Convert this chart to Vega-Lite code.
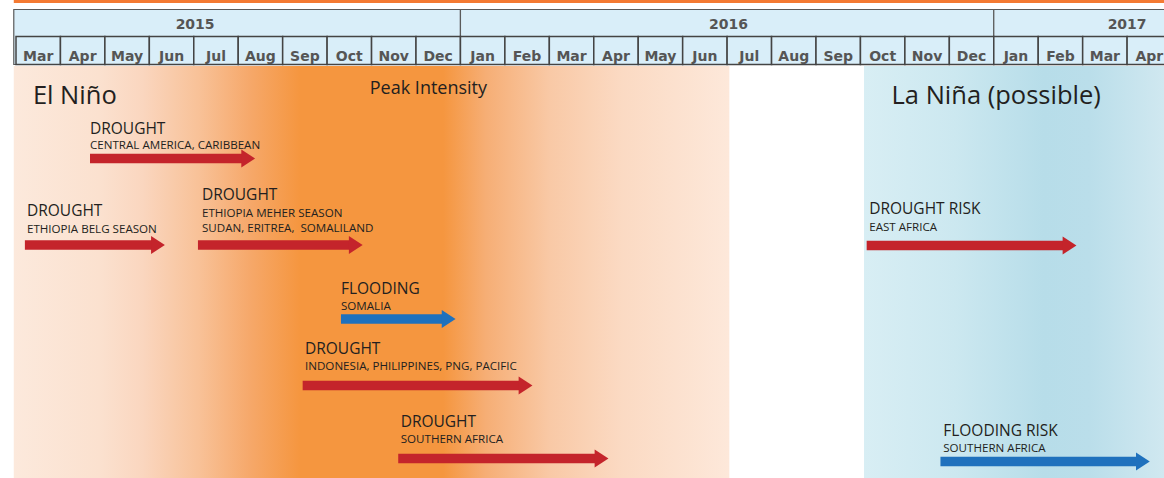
{
  "$schema": "https://vega.github.io/schema/vega-lite/v6.json",
  "width": 1164,
  "height": 478,
  "autosize": {"type": "fit", "contains": "padding"},
  "padding": 0,
  "background": "white",
  "config": {"view": {"stroke": null}},
  "datasets": {
    "phases": [
      {"phase": "El Niño", "start": -0.05, "end": 16.05, "lane": 66, "lane2": 478},
      {"phase": "La Niña", "start": 19.08, "end": 25.83, "lane": 66, "lane2": 478}
    ],
    "years": [
      {"year": "2015", "start": -0.05, "end": 10, "center": 4.03},
      {"year": "2016", "start": 10, "end": 22, "center": 16.03},
      {"year": "2017", "start": 22, "end": 26, "center": 25.0}
    ],
    "months": [
      {"month": "Mar", "start": 0, "end": 1},
      {"month": "Apr", "start": 1, "end": 2},
      {"month": "May", "start": 2, "end": 3},
      {"month": "Jun", "start": 3, "end": 4},
      {"month": "Jul", "start": 4, "end": 5},
      {"month": "Aug", "start": 5, "end": 6},
      {"month": "Sep", "start": 6, "end": 7},
      {"month": "Oct", "start": 7, "end": 8},
      {"month": "Nov", "start": 8, "end": 9},
      {"month": "Dec", "start": 9, "end": 10},
      {"month": "Jan", "start": 10, "end": 11},
      {"month": "Feb", "start": 11, "end": 12},
      {"month": "Mar", "start": 12, "end": 13},
      {"month": "Apr", "start": 13, "end": 14},
      {"month": "May", "start": 14, "end": 15},
      {"month": "Jun", "start": 15, "end": 16},
      {"month": "Jul", "start": 16, "end": 17},
      {"month": "Aug", "start": 17, "end": 18},
      {"month": "Sep", "start": 18, "end": 19},
      {"month": "Oct", "start": 19, "end": 20},
      {"month": "Nov", "start": 20, "end": 21},
      {"month": "Dec", "start": 21, "end": 22},
      {"month": "Jan", "start": 22, "end": 23},
      {"month": "Feb", "start": 23, "end": 24},
      {"month": "Mar", "start": 24, "end": 25},
      {"month": "Apr", "start": 25, "end": 26}
    ],
    "arrows": [
      {"type": "drought", "region": "Central America, Caribbean", "start": 1.665, "end": 5.11, "lane": 158.5},
      {"type": "drought", "region": "Ethiopia Belg season", "start": 0.2, "end": 3.08, "lane": 245},
      {"type": "drought", "region": "Ethiopia Meher season", "start": 4.094, "end": 7.53, "lane": 245},
      {"type": "flood", "region": "Somalia", "start": 7.312, "end": 9.62, "lane": 319},
      {"type": "drought", "region": "Indonesia, Philippines, PNG, Pacific", "start": 6.45, "end": 11.35, "lane": 385.5},
      {"type": "drought", "region": "Southern Africa", "start": 8.6, "end": 13.06, "lane": 458.5},
      {"type": "drought", "region": "East Africa", "start": 19.14, "end": 23.59, "lane": 245.5},
      {"type": "flood", "region": "Southern Africa (risk)", "start": 20.8, "end": 25.24, "lane": 461.5}
    ],
    "labels": [
      {"kind": "title", "text": "DROUGHT", "start": 1.665, "lane": 133.5},
      {"kind": "sub", "text": "CENTRAL AMERICA, CARIBBEAN", "start": 1.665, "lane": 148.5},
      {"kind": "title", "text": "DROUGHT", "start": 0.247, "lane": 215.5},
      {"kind": "sub", "text": "ETHIOPIA BELG SEASON", "start": 0.247, "lane": 232.5},
      {"kind": "title", "text": "DROUGHT", "start": 4.184, "lane": 199.5},
      {"kind": "sub", "text": "ETHIOPIA MEHER SEASON", "start": 4.184, "lane": 216.5},
      {"kind": "sub", "text": "SUDAN, ERITREA,\u00a0 SOMALILAND", "start": 4.184, "lane": 231.5},
      {"kind": "title", "text": "FLOODING", "start": 7.312, "lane": 293.5},
      {"kind": "sub", "text": "SOMALIA", "start": 7.312, "lane": 309.5},
      {"kind": "title", "text": "DROUGHT", "start": 6.502, "lane": 353.5},
      {"kind": "sub", "text": "INDONESIA, PHILIPPINES, PNG, PACIFIC", "start": 6.502, "lane": 370},
      {"kind": "title", "text": "DROUGHT", "start": 8.655, "lane": 426.7},
      {"kind": "sub", "text": "SOUTHERN AFRICA", "start": 8.655, "lane": 443.3},
      {"kind": "title", "text": "DROUGHT RISK", "start": 19.197, "lane": 214.3},
      {"kind": "sub", "text": "EAST AFRICA", "start": 19.197, "lane": 230.7},
      {"kind": "title", "text": "FLOODING RISK", "start": 20.862, "lane": 435.7},
      {"kind": "sub", "text": "SOUTHERN AFRICA", "start": 20.862, "lane": 451.7}
    ],
    "headings": [
      {"kind": "phase", "text": "El Niño", "start": 0.38, "lane": 104},
      {"kind": "note", "text": "Peak Intensity", "start": 7.96, "lane": 94},
      {"kind": "phase", "text": "La Niña (possible)", "start": 19.7, "lane": 104}
    ]
  },
  "layer": [
    {
      "data": {"name": "phases"},
      "transform": [{"filter": {"field": "phase", "equal": "El Niño"}}],
      "mark": {"type": "rect", "fill": {"gradient": "linear", "x1": 0, "x2": 1, "y1": 0, "y2": 0, "stops": [
        {"offset": 0, "color": "#fce9dc"},
        {"offset": 0.12, "color": "#fbe1cf"},
        {"offset": 0.18, "color": "#fad6bf"},
        {"offset": 0.26, "color": "#f8c197"},
        {"offset": 0.33, "color": "#f6a86a"},
        {"offset": 0.4, "color": "#f5963f"},
        {"offset": 0.6, "color": "#f5963f"},
        {"offset": 0.66, "color": "#f6ae75"},
        {"offset": 0.75, "color": "#f9c9a6"},
        {"offset": 0.85, "color": "#fbdac3"},
        {"offset": 1, "color": "#fde8da"}
      ]}},
      "encoding": {
        "x": {"field": "start", "type": "quantitative", "scale": {"domain": [-0.36, 25.83], "nice": false, "zero": false}, "axis": null},
        "x2": {"field": "end"},
        "y": {"field": "lane", "type": "quantitative", "scale": {"domain": [0, 478], "reverse": true, "nice": false, "zero": false}, "axis": null},
        "y2": {"field": "lane2"}
      }
    },
    {
      "data": {"name": "phases"},
      "transform": [{"filter": {"field": "phase", "equal": "La Niña"}}],
      "mark": {"type": "rect", "fill": {"gradient": "linear", "x1": 0, "x2": 1, "y1": 0, "y2": 0, "stops": [
        {"offset": 0, "color": "#d8eef4"},
        {"offset": 0.3, "color": "#cce8f0"},
        {"offset": 0.6, "color": "#b7dde9"},
        {"offset": 0.75, "color": "#badeea"},
        {"offset": 1, "color": "#d0e8f0"}
      ]}},
      "encoding": {
        "x": {"field": "start", "type": "quantitative", "scale": {"domain": [-0.36, 25.83], "nice": false, "zero": false}, "axis": null},
        "x2": {"field": "end"},
        "y": {"field": "lane", "type": "quantitative", "scale": {"domain": [0, 478], "reverse": true, "nice": false, "zero": false}, "axis": null},
        "y2": {"field": "lane2"}
      }
    },
    {
      "data": {"values": [{}]},
      "mark": {"type": "rect", "fill": "#f47a32"},
      "encoding": {
        "x": {"datum": -0.05, "type": "quantitative", "scale": {"domain": [-0.36, 25.83], "nice": false, "zero": false}, "axis": null},
        "x2": {"datum": 25.83},
        "y": {"datum": 0, "type": "quantitative", "scale": {"domain": [0, 478], "reverse": true, "nice": false, "zero": false}, "axis": null},
        "y2": {"datum": 3}
      }
    },
    {
      "data": {"name": "years"},
      "mark": {"type": "rect", "fill": "#d9eef9", "stroke": "#5a5a5a", "strokeWidth": 1.2, "clip": true},
      "encoding": {
        "x": {"field": "start", "type": "quantitative", "scale": {"domain": [-0.36, 25.83], "nice": false, "zero": false}, "axis": null},
        "x2": {"field": "end"},
        "y": {"datum": 9.5, "type": "quantitative", "scale": {"domain": [0, 478], "reverse": true, "nice": false, "zero": false}, "axis": null},
        "y2": {"datum": 64.5}
      }
    },
    {
      "data": {"name": "months"},
      "mark": {"type": "rect", "fill": "#d9eef9", "stroke": "#444444", "strokeWidth": 1.5, "clip": true},
      "encoding": {
        "x": {"field": "start", "type": "quantitative", "scale": {"domain": [-0.36, 25.83], "nice": false, "zero": false}, "axis": null},
        "x2": {"field": "end"},
        "y": {"datum": 36.5, "type": "quantitative", "scale": {"domain": [0, 478], "reverse": true, "nice": false, "zero": false}, "axis": null},
        "y2": {"datum": 64.5}
      }
    },
    {
      "data": {"name": "years"},
      "mark": {"type": "text", "font": "DejaVu Sans", "fontWeight": "bold", "fontSize": 14, "fill": "#555555", "align": "center", "baseline": "alphabetic"},
      "encoding": {
        "x": {"field": "center", "type": "quantitative", "scale": {"domain": [-0.36, 25.83], "nice": false, "zero": false}, "axis": null},
        "y": {"datum": 28.5, "type": "quantitative", "scale": {"domain": [0, 478], "reverse": true, "nice": false, "zero": false}, "axis": null},
        "text": {"field": "year"}
      }
    },
    {
      "data": {"name": "months"},
      "mark": {"type": "text", "font": "DejaVu Sans", "fontWeight": "bold", "fontSize": 14, "fill": "#555555", "align": "center", "baseline": "alphabetic", "dx": 22.2},
      "encoding": {
        "x": {"field": "start", "type": "quantitative", "scale": {"domain": [-0.36, 25.83], "nice": false, "zero": false}, "axis": null},
        "y": {"datum": 61, "type": "quantitative", "scale": {"domain": [0, 478], "reverse": true, "nice": false, "zero": false}, "axis": null},
        "text": {"field": "month"}
      }
    },
    {
      "data": {"name": "arrows"},
      "mark": {"type": "rule", "strokeWidth": 9.5, "strokeCap": "butt"},
      "encoding": {
        "x": {"field": "start", "type": "quantitative", "scale": {"domain": [-0.36, 25.83], "nice": false, "zero": false}, "axis": null},
        "x2": {"field": "end"},
        "y": {"field": "lane", "type": "quantitative", "scale": {"domain": [0, 478], "reverse": true, "nice": false, "zero": false}, "axis": null},
        "color": {"field": "type", "type": "nominal", "scale": {"domain": ["drought", "flood"], "range": ["#c4242b", "#1f71bd"]}, "legend": null}
      }
    },
    {
      "data": {"name": "arrows"},
      "mark": {"type": "point", "filled": true, "opacity": 1, "shape": "M-0.2,-1L1.333,0L-0.2,1Z", "size": 324},
      "encoding": {
        "x": {"field": "end", "type": "quantitative", "scale": {"domain": [-0.36, 25.83], "nice": false, "zero": false}, "axis": null},
        "y": {"field": "lane", "type": "quantitative", "scale": {"domain": [0, 478], "reverse": true, "nice": false, "zero": false}, "axis": null},
        "color": {"field": "type", "type": "nominal", "scale": {"domain": ["drought", "flood"], "range": ["#c4242b", "#1f71bd"]}, "legend": null}
      }
    },
    {
      "data": {"name": "labels"},
      "transform": [{"filter": {"field": "kind", "equal": "title"}}],
      "mark": {"type": "text", "font": "Open Sans", "fontSize": 15.5, "fill": "#231f20", "align": "left", "baseline": "alphabetic"},
      "encoding": {
        "x": {"field": "start", "type": "quantitative", "scale": {"domain": [-0.36, 25.83], "nice": false, "zero": false}, "axis": null},
        "y": {"field": "lane", "type": "quantitative", "scale": {"domain": [0, 478], "reverse": true, "nice": false, "zero": false}, "axis": null},
        "text": {"field": "text"}
      }
    },
    {
      "data": {"name": "labels"},
      "transform": [{"filter": {"field": "kind", "equal": "sub"}}],
      "mark": {"type": "text", "font": "Open Sans", "fontSize": 11.6, "fill": "#231f20", "align": "left", "baseline": "alphabetic"},
      "encoding": {
        "x": {"field": "start", "type": "quantitative", "scale": {"domain": [-0.36, 25.83], "nice": false, "zero": false}, "axis": null},
        "y": {"field": "lane", "type": "quantitative", "scale": {"domain": [0, 478], "reverse": true, "nice": false, "zero": false}, "axis": null},
        "text": {"field": "text"}
      }
    },
    {
      "data": {"name": "headings"},
      "transform": [{"filter": {"field": "kind", "equal": "phase"}}],
      "mark": {"type": "text", "font": "Open Sans", "fontSize": 25.5, "fill": "#231f20", "align": "left", "baseline": "alphabetic"},
      "encoding": {
        "x": {"field": "start", "type": "quantitative", "scale": {"domain": [-0.36, 25.83], "nice": false, "zero": false}, "axis": null},
        "y": {"field": "lane", "type": "quantitative", "scale": {"domain": [0, 478], "reverse": true, "nice": false, "zero": false}, "axis": null},
        "text": {"field": "text"}
      }
    },
    {
      "data": {"name": "headings"},
      "transform": [{"filter": {"field": "kind", "equal": "note"}}],
      "mark": {"type": "text", "font": "Open Sans", "fontSize": 18, "fill": "#231f20", "align": "left", "baseline": "alphabetic"},
      "encoding": {
        "x": {"field": "start", "type": "quantitative", "scale": {"domain": [-0.36, 25.83], "nice": false, "zero": false}, "axis": null},
        "y": {"field": "lane", "type": "quantitative", "scale": {"domain": [0, 478], "reverse": true, "nice": false, "zero": false}, "axis": null},
        "text": {"field": "text"}
      }
    }
  ]
}
